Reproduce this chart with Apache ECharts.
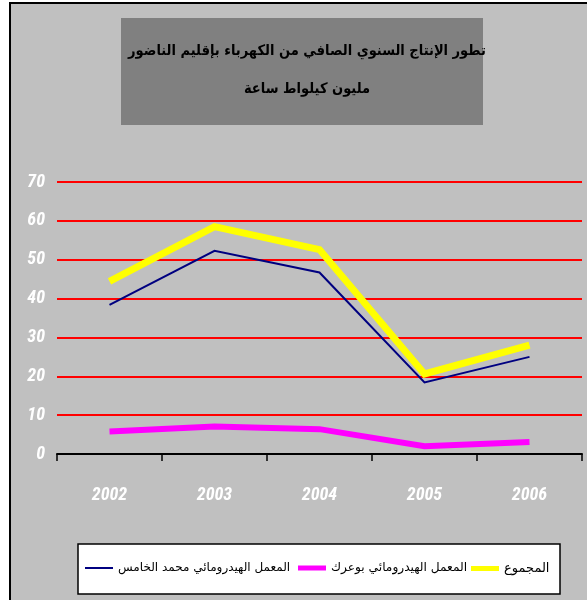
<!DOCTYPE html>
<html><head><meta charset="utf-8">
<script src="https://cdn.jsdelivr.net/npm/echarts@6/dist/echarts.min.js"></script>
<style>html,body{margin:0;padding:0;background:#fff;}#c{width:587px;height:600px;}</style>
</head><body><div id="c"></div>
<script>
const categories = ['2002', '2003', '2004', '2005', '2006'];
const yTicks = [0, 10, 20, 30, 40, 50, 60, 70];
const seriesNames = ['المعمل الهيدرومائي محمد الخامس', 'المعمل الهيدرومائي بوعرك', 'المجموع'];
const mohammedV = [38.4, 52.3, 46.7, 18.4, 25.0];
const bouareg = [5.8, 7.1, 6.4, 2.0, 3.1];
const total = [44.4, 58.5, 52.6, 20.6, 28.0];
const titleLines = ['تطور الإنتاج السنوي الصافي من الكهرباء بإقليم الناضور', 'مليون كيلواط ساعة'];

const chart = echarts.init(document.getElementById('c'), null, {renderer: 'canvas'});
const narrow = '"Roboto Condensed", "Liberation Sans", Arial, sans-serif';
function legendFor(name, color, h, left, fs) {
  return {
    data: [name], left: left, top: 562, icon: 'rect', itemWidth: 28, itemHeight: h, itemGap: 0,
    textStyle: {color: '#000', fontSize: fs, fontFamily: '"DejaVu Sans", serif'}, padding: 0, selectedMode: false,
    itemStyle: {color: color, borderWidth: 0}
  };
}
chart.setOption({
  animation: false,
  backgroundColor: '#fff',
  graphic: {elements: [
    {type: 'rect', z: -10, shape: {x: 10, y: 3, width: 620, height: 640}, style: {fill: '#c0c0c0', stroke: '#000', lineWidth: 2}},
    {type: 'rect', z: -9, shape: {x: 121, y: 18, width: 362, height: 107}, style: {fill: '#808080'}},
    {type: 'rect', z: -9, shape: {x: 78, y: 544, width: 482, height: 50}, style: {fill: '#fff', stroke: '#000', lineWidth: 1.5}}
  ]},
  title: {
    text: titleLines.join('\n'), left: 302, top: 27, textAlign: 'center',
    textStyle: {color: '#000', fontSize: 14.5, fontWeight: 'bold', fontFamily: '"DejaVu Sans Condensed", "DejaVu Sans", sans-serif', lineHeight: 38}
  },
  legend: [
    legendFor(seriesNames[0], '#000080', 2, 85, 12),
    legendFor(seriesNames[1], '#ff00ff', 5, 298, 12.2),
    legendFor(seriesNames[2], '#ffff00', 5, 471, 13)
  ],
  grid: {left: 57, right: 5, top: 182, bottom: 146, containLabel: false},
  xAxis: {
    type: 'category', data: categories, boundaryGap: true,
    axisLine: {lineStyle: {color: '#000', width: 2}},
    axisTick: {show: true, length: 7, lineStyle: {color: '#000', width: 1.5}},
    axisLabel: {color: '#fff', fontSize: 18, fontWeight: 'bold', fontStyle: 'italic', fontFamily: narrow, margin: 32}
  },
  yAxis: {
    type: 'value', min: yTicks[0], max: yTicks[yTicks.length - 1], interval: 10,
    axisLine: {show: false}, axisTick: {show: false},
    splitLine: {lineStyle: {color: '#ff0000', width: 2}},
    axisLabel: {color: '#fff', fontSize: 18, fontWeight: 'bold', fontStyle: 'italic', fontFamily: narrow, margin: 12}
  },
  series: [
    {name: seriesNames[0], type: 'line', data: mohammedV, symbol: 'none', z: 2,
     lineStyle: {color: '#000080', width: 2, join: 'miter', cap: 'butt'}, itemStyle: {color: '#000080'}},
    {name: seriesNames[1], type: 'line', data: bouareg, symbol: 'none', z: 3,
     lineStyle: {color: '#ff00ff', width: 6, join: 'miter', cap: 'butt'}, itemStyle: {color: '#ff00ff'}},
    {name: seriesNames[2], type: 'line', data: total, symbol: 'none', z: 4,
     lineStyle: {color: '#ffff00', width: 7, join: 'miter', cap: 'butt'}, itemStyle: {color: '#ffff00'}}
  ]
});
</script></body></html>
